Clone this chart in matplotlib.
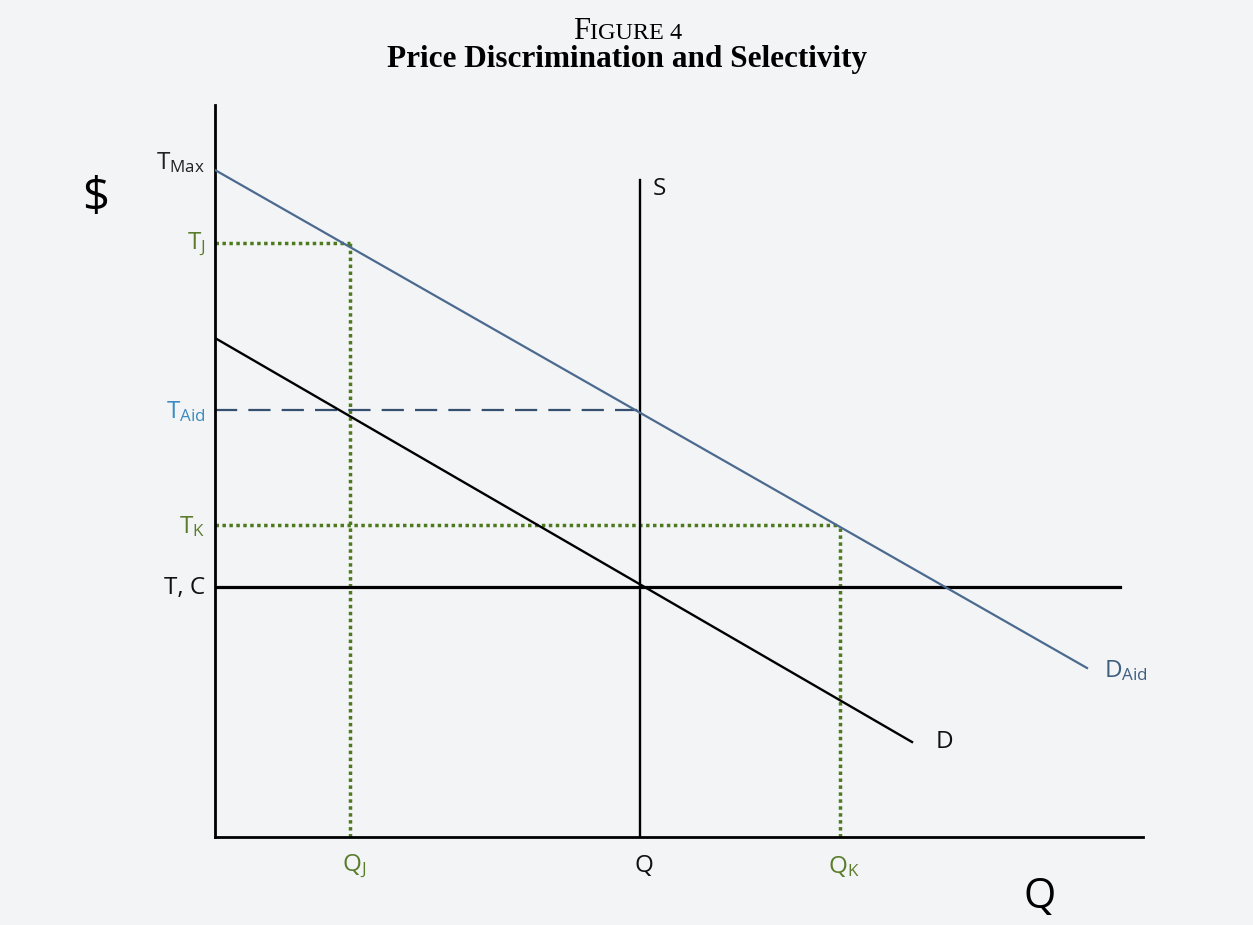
import matplotlib.pyplot as plt

# --- data (arbitrary diagram units) ---
d_aid_x = [0, 87.2]
d_aid_y = [66.7, 16.9]
d_x = [0, 69.7]
d_y = [49.9, 9.5]
q_eq = 42.5          # supply quantity / S line
s_top = 65.7
t_c = 25.0           # T, C horizontal level
t_c_end = 90.5
t_aid = 42.7
q_j, t_j = 13.5, 59.4
q_k, t_k = 62.5, 31.2

BLUE = '#4a6a8f'
DBLUE = '#34506e'
GREEN = '#4e7a1e'
GTEXT = '#5a7d2c'
BG = '#f3f4f6'

plt.rcParams['font.family'] = ['Open Sans', 'DejaVu Sans']
plt.rcParams['mathtext.fontset'] = 'custom'
plt.rcParams['mathtext.rm'] = 'Open Sans'
plt.rcParams['mathtext.it'] = 'Open Sans'

fig = plt.figure(figsize=(12.53, 9.25), dpi=100, facecolor=BG)
ax = fig.add_axes([215 / 1253, 88 / 925, 928 / 1253, 732 / 925])
ax.set_facecolor(BG)
ax.set_xlim(0, 92.8)
ax.set_ylim(0, 73.2)
for sp in ['top', 'right']:
    ax.spines[sp].set_visible(False)
for sp in ['left', 'bottom']:
    ax.spines[sp].set_linewidth(2.0)
    ax.spines[sp].set_color('black')
ax.set_xticks([])
ax.set_yticks([])

# guide lines
dot = dict(color=GREEN, lw=2.5, linestyle=(0, (1, 1)), zorder=2)
ax.plot([0, q_j], [t_j, t_j], **dot)
ax.plot([q_j, q_j], [0, t_j], **dot)
ax.plot([0, q_k], [t_k, t_k], **dot)
ax.plot([q_k, q_k], [0, t_k], **dot)
ax.plot([0, q_eq], [t_aid, t_aid], color=DBLUE, lw=1.6, linestyle=(0, (10, 5)), zorder=2)

# main curves
ax.plot([0, t_c_end], [t_c, t_c], color='black', lw=2.3, zorder=3)
ax.plot([q_eq, q_eq], [0, s_top], color='black', lw=1.7, zorder=3)
ax.plot(d_x, d_y, color='black', lw=1.7, zorder=3)
ax.plot(d_aid_x, d_aid_y, color=BLUE, lw=1.6, zorder=3)

fs = 17.5
# y-axis labels
def ylab(y, s, c, dy=0):
    ax.annotate(s, (0, y), xytext=(-7, dy), textcoords='offset points',
                ha='right', va='center', fontsize=fs, color=c, annotation_clip=False)

ylab(d_aid_y[0], r'$\mathregular{T_{Max}}$', '#222222', dy=5)
ylab(t_j, r'$\mathregular{T_{J}}$', GTEXT, dy=-1)
ylab(t_aid, r'$\mathregular{T_{Aid}}$', '#3a8cc2', dy=-1)
ylab(t_k, r'$\mathregular{T_{K}}$', GTEXT, dy=-1)
ylab(t_c, 'T, C', '#111111', dy=-1)

# x-axis labels
def xlab(x, s, c):
    ax.annotate(s, (x, 0), xytext=(3, -21), textcoords='offset points',
                ha='center', va='center', fontsize=fs, color=c, annotation_clip=False)

xlab(q_j, r'$\mathregular{Q_{J}}$', GTEXT)
xlab(q_eq, 'Q', '#111111')
xlab(q_k, r'$\mathregular{Q_{K}}$', GTEXT)

# curve labels
ax.annotate('S', (q_eq, s_top), xytext=(9, 2), textcoords='offset points',
            ha='left', va='top', fontsize=fs, color='#111111')
ax.annotate('D', (d_x[1], d_y[1]), xytext=(17, 0), textcoords='offset points',
            ha='left', va='center', fontsize=fs, color='#111111')
ax.annotate(r'$\mathregular{D_{Aid}}$', (d_aid_x[1], d_aid_y[1]), xytext=(12, -2),
            textcoords='offset points', ha='left', va='center', fontsize=fs,
            color='#3f5f80', annotation_clip=False)

# axis names
fig.text(96 / 1253, 1 - 198 / 925, '$', fontsize=34, ha='center', va='center')
fig.text(1040 / 1253, 1 - 897 / 925, 'Q', fontsize=30, ha='center', va='center')

# titles (Times-like serif, small caps for "Figure")
serif = ['Liberation Serif', 'DejaVu Serif']
fx = 590 / 1253
fig.text(fx, 1 - 39 / 925, 'F', fontsize=22, family=serif, ha='right', va='baseline')
fig.text(fx, 1 - 39 / 925, 'IGURE 4', fontsize=17.5, family=serif, ha='left', va='baseline')
fig.text(627 / 1253, 1 - 67 / 925, 'Price Discrimination and Selectivity', fontsize=22.5,
         family=serif, weight='bold', ha='center', va='baseline')

fig.savefig('out.png', dpi=100, facecolor=BG)
